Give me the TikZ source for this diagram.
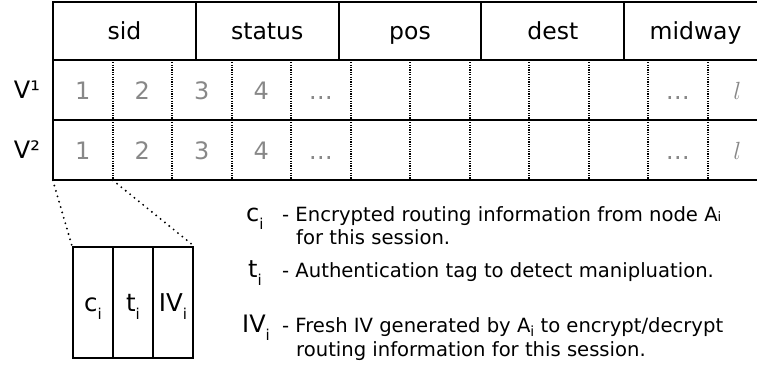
\documentclass[tikz,border=0pt]{standalone}
\usepackage{fontspec}
\setmainfont{DejaVu Sans}
\usetikzlibrary{calc}
\definecolor{numgray}{HTML}{888888}
% lowered small "i" used as an index
\newcommand{\idx}[2][8pt]{\raisebox{-#1}{\fontsize{#2}{#2}\selectfont i}}
\begin{document}
\begin{tikzpicture}[x=1pt,y=-1pt,
  hdrcell/.style={draw,line width=2pt,minimum width=142.8pt,minimum height=58.5pt,
    inner sep=0pt,font=\fontsize{23.5}{26}\selectfont,text height=17pt,text depth=0pt},
  rowbox/.style={draw,line width=2pt,minimum width=714pt,minimum height=60pt,inner sep=0pt},
  subcell/.style={minimum width=59.5pt,minimum height=60pt,inner sep=0pt,
    font=\fontsize{24}{26}\selectfont,text=numgray,text height=18pt,text depth=0pt},
  sepline/.style={line width=1.6pt,dash pattern=on 1.1pt off 1.3pt},
  rowlabel/.style={font=\fontsize{24}{26}\selectfont,inner sep=0pt},
  fieldbox/.style={draw,line width=2pt,minimum width=40pt,minimum height=111pt,inner sep=0pt,
    font=\fontsize{24.5}{26}\selectfont,text height=17pt,text depth=0pt},
  zoomline/.style={line width=2.1pt,dash pattern=on 0pt off 5.6pt,line cap=round},
  sym/.style={font=\fontsize{24}{26}\selectfont,inner sep=0pt,anchor=base west},
  desc/.style={font=\fontsize{19.6}{24}\selectfont,inner sep=0pt,anchor=base west}]
\useasboundingbox (0,0) rectangle (757,367);
\clip (0,0) rectangle (757,367);

% header row
\node[hdrcell] (sid)    at (124.4,31) {sid};
\node[hdrcell] (status) at (267.2,31) {status};
\node[hdrcell] (pos)    at (410.0,31) {pos};
\node[hdrcell] (dest)   at (552.8,31) {dest};
\node[hdrcell] (midway) at (695.6,31) {midway};

% the two value rows
\node[rowbox] (r1) at (410,90) {};
\node[rowbox] (r2) at (410,150) {};
\node[rowlabel] (v1) at (27,90) {V¹};
\node[rowlabel] (v2) at (27,150) {V²};

\foreach \r in {1,2}{
  \foreach \k in {1,...,12}{
    \node[subcell] (c\r-\k) at ({53+59.5*(\k-0.5)},{30+60*\r}) {};
  }
  \node[subcell] at (c\r-1) {1};
  \node[subcell] at (c\r-2) {2};
  \node[subcell] at (c\r-3) {3};
  \node[subcell] at (c\r-4) {4};
  \node[subcell] at (c\r-5) {…};
  \node[subcell] at (c\r-11) {…};
  \node[subcell] at (c\r-12) {$l$};
  \foreach \k in {1,...,11}{
    \draw[sepline] (c\r-\k.north east) -- (c\r-\k.south east);
  }
}

% expanded field: c_i | t_i | IV_i
\node[fieldbox] (fc) at (93,302.5)  {c\idx{15}};
\node[fieldbox] (ft) at (133,302.5) {t\idx{15}};
\node[fieldbox] (fiv) at (173,302.5) {IV\idx{15}};
\draw[zoomline] (c2-1.south west) -- (fc.north west);
\draw[zoomline] (c2-1.south east) -- (fiv.north east);

% legend
\node[sym] (lc)  at (246,221) {c\idx{15}};
\node[desc] (dc1) at (282,221) {- Encrypted routing information from node A{\fontsize{13}{13}\selectfont i}};
\node[desc] (dc2) at (296,244) {for this session.};
\node[sym] (lt)  at (248,277) {t\idx{15}};
\node[desc] (dt) at (282,277) {- Authentication tag to detect manipluation.};
\node[sym] (liv) at (242,332) {IV\idx{15}};
\node[desc] (div1) at (282,332) {- Fresh IV generated by A\idx[4pt]{14} to encrypt/decrypt};
\node[desc] (div2) at (296,356) {routing information for this session.};
\end{tikzpicture}
\end{document}
